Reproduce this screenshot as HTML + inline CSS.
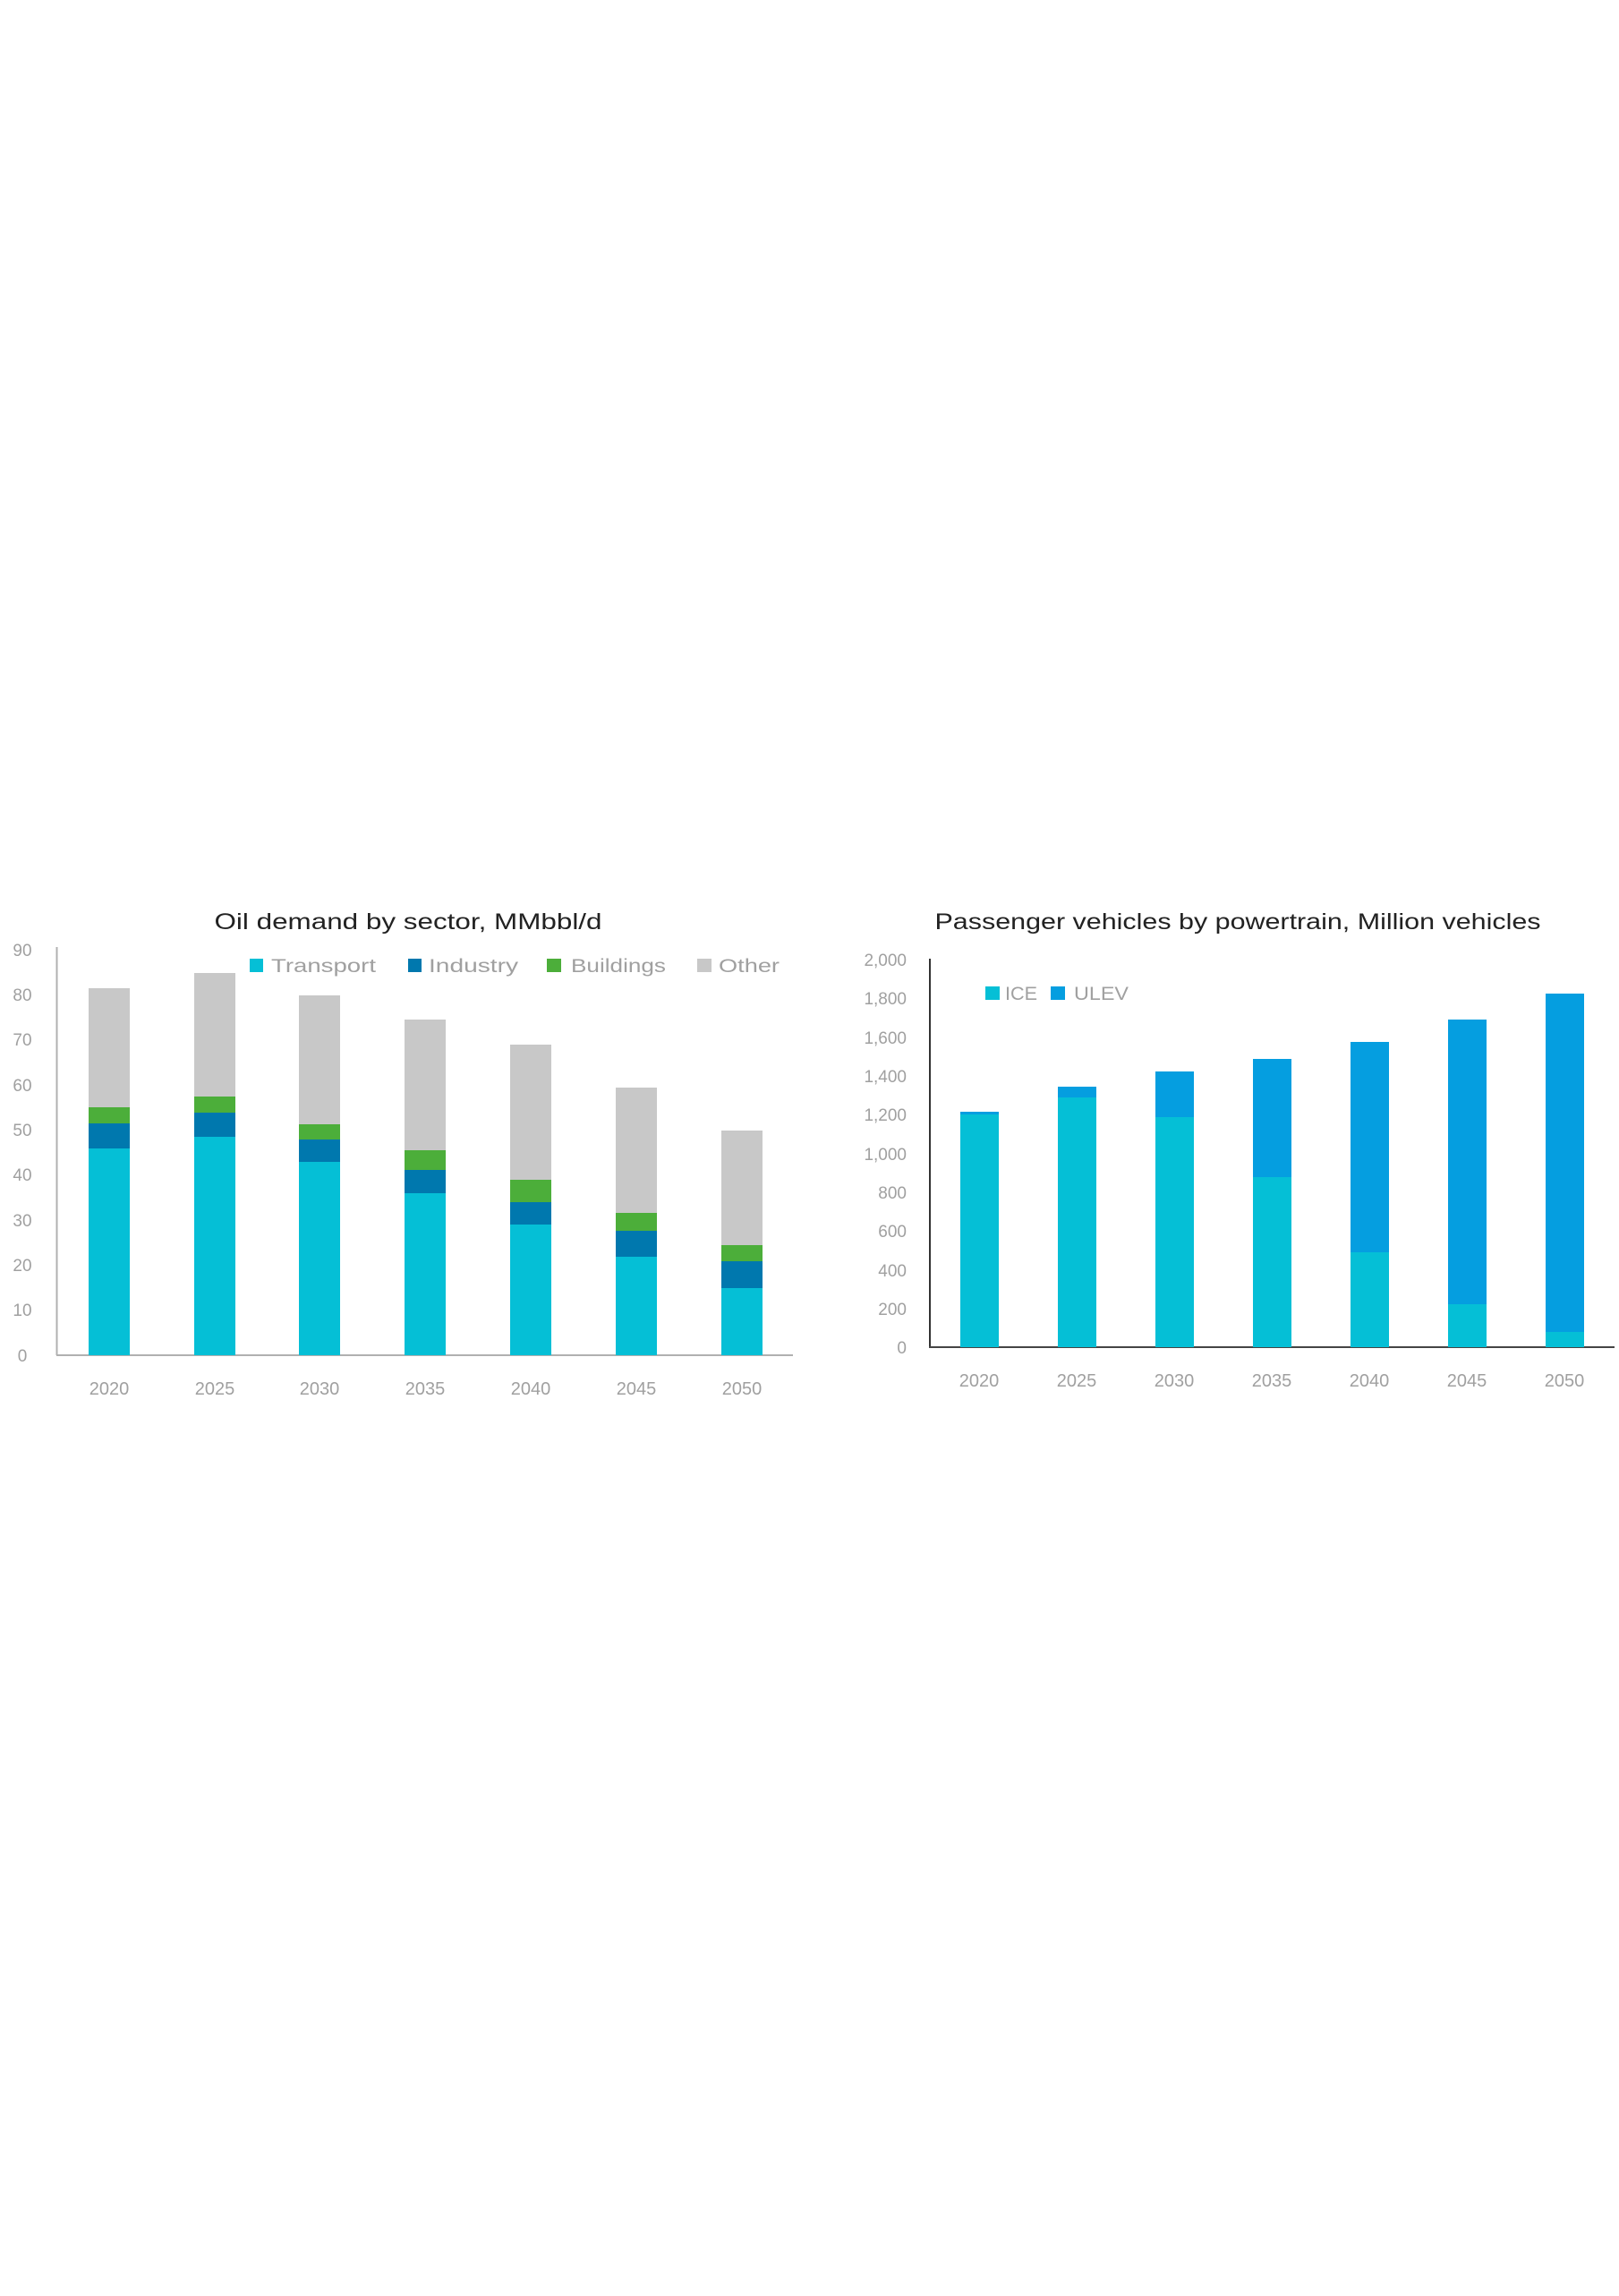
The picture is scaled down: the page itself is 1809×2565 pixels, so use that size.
<!DOCTYPE html>
<html><head><meta charset="utf-8"><style>html,body{margin:0;padding:0;background:#fff}</style></head>
<body>
<svg width="1809" height="2560" xmlns="http://www.w3.org/2000/svg" font-family="Liberation Sans, sans-serif">
<rect width="1809" height="2560" fill="#fff"/>
<!-- Left chart -->
<text x="456" y="1038" font-size="25" fill="#222" text-anchor="middle" textLength="433" lengthAdjust="spacingAndGlyphs">Oil demand by sector, MMbbl/d</text>
<g font-size="19" fill="#a0a0a0" text-anchor="middle">
<text x="25" y="1068">90</text><text x="25" y="1118">80</text><text x="25" y="1168">70</text><text x="25" y="1219">60</text><text x="25" y="1269">50</text><text x="25" y="1319">40</text><text x="25" y="1370">30</text><text x="25" y="1420">20</text><text x="25" y="1470">10</text><text x="25" y="1521">0</text>
</g>
<line x1="63.5" y1="1058" x2="63.5" y2="1514" stroke="#b0b0b0" stroke-width="2"/>
<line x1="63" y1="1514" x2="886" y2="1514" stroke="#b0b0b0" stroke-width="2"/>
<g id="L"></g>
<g font-size="20" fill="#a0a0a0" text-anchor="middle">
<text x="122" y="1558">2020</text><text x="240" y="1558">2025</text><text x="357" y="1558">2030</text><text x="475" y="1558">2035</text><text x="593" y="1558">2040</text><text x="711" y="1558">2045</text><text x="829" y="1558">2050</text>
</g>
<g font-size="21" fill="#a0a0a0">
<rect x="279" y="1071" width="15" height="15" fill="#05bfd6"/><text x="303" y="1086" textLength="117" lengthAdjust="spacingAndGlyphs">Transport</text>
<rect x="456" y="1071" width="15" height="15" fill="#0078ae"/><text x="479" y="1086" textLength="100" lengthAdjust="spacingAndGlyphs">Industry</text>
<rect x="611" y="1071" width="16" height="15" fill="#4cae3a"/><text x="638" y="1086" textLength="106" lengthAdjust="spacingAndGlyphs">Buildings</text>
<rect x="779" y="1071" width="16" height="15" fill="#c8c8c8"/><text x="803" y="1086" textLength="68" lengthAdjust="spacingAndGlyphs">Other</text>
</g>
<!-- Right chart -->
<text x="1383" y="1038" font-size="25" fill="#222" text-anchor="middle" textLength="677" lengthAdjust="spacingAndGlyphs">Passenger vehicles by powertrain, Million vehicles</text>
<g font-size="19" fill="#a0a0a0" text-anchor="end">
<text x="1013" y="1079">2,000</text><text x="1013" y="1122">1,800</text><text x="1013" y="1166">1,600</text><text x="1013" y="1209">1,400</text><text x="1013" y="1252">1,200</text><text x="1013" y="1296">1,000</text><text x="1013" y="1339">800</text><text x="1013" y="1382">600</text><text x="1013" y="1426">400</text><text x="1013" y="1469">200</text><text x="1013" y="1512">0</text>
</g>
<g id="R"></g>
<line x1="1039" y1="1071" x2="1039" y2="1505" stroke="#333" stroke-width="2"/>
<line x1="1038" y1="1505" x2="1804" y2="1505" stroke="#444" stroke-width="2"/>
<g font-size="20" fill="#a0a0a0" text-anchor="middle">
<text x="1094" y="1549">2020</text><text x="1203" y="1549">2025</text><text x="1312" y="1549">2030</text><text x="1421" y="1549">2035</text><text x="1530" y="1549">2040</text><text x="1639" y="1549">2045</text><text x="1748" y="1549">2050</text>
</g>
<g font-size="21" fill="#a0a0a0">
<rect x="1101" y="1102" width="16" height="15" fill="#05bfd6"/><text x="1123" y="1117" textLength="36" lengthAdjust="spacingAndGlyphs">ICE</text>
<rect x="1174" y="1102" width="16" height="15" fill="#059ee0"/><text x="1200" y="1117" textLength="61" lengthAdjust="spacingAndGlyphs">ULEV</text>
</g>
<!-- bars left -->
<g>
<rect x="99" y="1104" width="46" height="135" fill="#c8c8c8"/><rect x="99" y="1237" width="46" height="20" fill="#4cae3a"/><rect x="99" y="1255" width="46" height="29" fill="#0078ae"/><rect x="99" y="1283" width="46" height="231" fill="#05bfd6"/>
<rect x="217" y="1087" width="46" height="140" fill="#c8c8c8"/><rect x="217" y="1225" width="46" height="20" fill="#4cae3a"/><rect x="217" y="1243" width="46" height="29" fill="#0078ae"/><rect x="217" y="1270" width="46" height="244" fill="#05bfd6"/>
<rect x="334" y="1112" width="46" height="146" fill="#c8c8c8"/><rect x="334" y="1256" width="46" height="20" fill="#4cae3a"/><rect x="334" y="1273" width="46" height="26" fill="#0078ae"/><rect x="334" y="1298" width="46" height="216" fill="#05bfd6"/>
<rect x="452" y="1139" width="46" height="148" fill="#c8c8c8"/><rect x="452" y="1285" width="46" height="23" fill="#4cae3a"/><rect x="452" y="1307" width="46" height="27" fill="#0078ae"/><rect x="452" y="1333" width="46" height="181" fill="#05bfd6"/>
<rect x="570" y="1167" width="46" height="153" fill="#c8c8c8"/><rect x="570" y="1318" width="46" height="25" fill="#4cae3a"/><rect x="570" y="1343" width="46" height="26" fill="#0078ae"/><rect x="570" y="1368" width="46" height="146" fill="#05bfd6"/>
<rect x="688" y="1215" width="46" height="142" fill="#c8c8c8"/><rect x="688" y="1355" width="46" height="21" fill="#4cae3a"/><rect x="688" y="1375" width="46" height="30" fill="#0078ae"/><rect x="688" y="1404" width="46" height="110" fill="#05bfd6"/>
<rect x="806" y="1263" width="46" height="129" fill="#c8c8c8"/><rect x="806" y="1391" width="46" height="19" fill="#4cae3a"/><rect x="806" y="1409" width="46" height="31" fill="#0078ae"/><rect x="806" y="1439" width="46" height="75" fill="#05bfd6"/>
</g>
<!-- bars right -->
<g>
<rect x="1073" y="1242" width="43" height="4" fill="#059ee0"/><rect x="1073" y="1245" width="43" height="260" fill="#05bfd6"/>
<rect x="1182" y="1214" width="43" height="13" fill="#059ee0"/><rect x="1182" y="1226" width="43" height="279" fill="#05bfd6"/>
<rect x="1291" y="1197" width="43" height="52" fill="#059ee0"/><rect x="1291" y="1248" width="43" height="257" fill="#05bfd6"/>
<rect x="1400" y="1183" width="43" height="133" fill="#059ee0"/><rect x="1400" y="1315" width="43" height="190" fill="#05bfd6"/>
<rect x="1509" y="1164" width="43" height="236" fill="#059ee0"/><rect x="1509" y="1399" width="43" height="106" fill="#05bfd6"/>
<rect x="1618" y="1139" width="43" height="319" fill="#059ee0"/><rect x="1618" y="1457" width="43" height="48" fill="#05bfd6"/>
<rect x="1727" y="1110" width="43" height="379" fill="#059ee0"/><rect x="1727" y="1488" width="43" height="17" fill="#05bfd6"/>
</g>
</svg>
</body></html>
